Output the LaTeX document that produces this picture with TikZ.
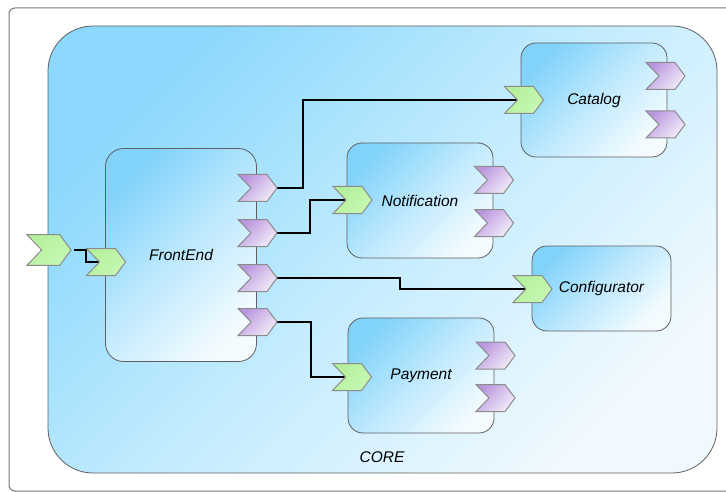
\documentclass[tikz,border=0pt]{standalone}
\usepackage{fontspec}
\setmainfont{Liberation Sans}
\definecolor{sky}{RGB}{130,211,250}
\definecolor{skymid}{RGB}{190,233,253}
\definecolor{skylight}{RGB}{244,251,255}
\definecolor{coresky}{RGB}{140,216,252}
\definecolor{coremid}{RGB}{196,236,254}
\definecolor{corelight}{RGB}{240,249,254}
\definecolor{purpA}{RGB}{186,150,222}
\definecolor{purpB}{RGB}{242,236,249}
\definecolor{greenA}{RGB}{180,240,155}
\definecolor{greenB}{RGB}{198,248,180}
\definecolor{portline}{RGB}{140,140,140}
\definecolor{boxline}{RGB}{95,95,95}
\definecolor{frameline}{RGB}{120,120,120}
\tikzset{
  chev/.pic={
    \path[#1] (-19.5,-13.5) -- (9.5,-13.5) -- (19.5,0) -- (9.5,13.5) -- (-19.5,13.5) -- (-6.5,0) -- cycle;
    \coordinate (-tip) at (19.5,0);
    \coordinate (-notch) at (-6.5,0);
  },
  inport/.style={draw=portline, line width=1pt, top color=greenA, bottom color=greenB, shading angle=45},
  outport/.style={draw=portline, line width=1pt, top color=purpA, bottom color=purpB, shading angle=45},
  comp/.style={draw=boxline, line width=0.8pt, rounded corners=15pt, top color=sky, bottom color=skylight, middle color=skymid, shading angle=45, inner sep=0pt, font=\fontsize{15.5}{18}\selectfont\itshape},
  corebox/.style={draw=boxline, line width=0.8pt, rounded corners=45pt, top color=coresky, bottom color=corelight, middle color=coremid, shading angle=45, inner sep=0pt},
  lbl/.style={font=\fontsize{15.5}{18}\selectfont\itshape, inner sep=0pt},
  wire/.style={draw=black, line width=1.2pt},
  frame/.style={draw=frameline, line width=1pt, rounded corners=6pt}
}
\begin{document}
\begin{tikzpicture}[x=1pt,y=-1pt]
\useasboundingbox (0,0) rectangle (726,492);
\draw[frame] (9,8) rectangle (760,491);
% core
\node[corebox, minimum width=669pt, minimum height=447pt] (core) at (382.5,249.5) {};
\node[lbl] (corelabel) at (382,457) {CORE};
% components
\node[comp, minimum width=151pt, minimum height=213pt, rounded corners=18pt] (frontend) at (181,255) {FrontEnd};
\node[comp, minimum width=146pt, minimum height=114pt] (catalog) at (594,100) {Catalog};
\node[comp, minimum width=146pt, minimum height=115pt] (notification) at (420,200.5) {Notification};
\node[comp, minimum width=139pt, minimum height=85pt] (configurator) at (601.5,288.5) {Configurator};
\node[comp, minimum width=146pt, minimum height=115pt] (payment) at (421,375.5) {Payment};
% port coordinates (wires need them first)
\path (49,250) coordinate (extc) (106,262) coordinate (feinc)
  (257.5,188) coordinate (fe1c) (257.5,233) coordinate (fe2c)
  (257.5,278) coordinate (fe3c) (257.5,322) coordinate (fe4c);
% wires
\draw[wire] ([xshift=24.9pt]extc) -- ++(12,0) |- ([xshift=-6.5pt]feinc);
\draw[wire] ([xshift=19.5pt]fe1c) -- ++(26,0) |- (517.5,100);
\draw[wire] ([xshift=19.5pt]fe2c) -- ++(33,0) |- (346,200);
\draw[wire] ([xshift=19.5pt]fe3c) -- ++(123,0) |- (526,289);
\draw[wire] ([xshift=19.5pt]fe4c) -- ++(34,0) |- (345.5,377);
% ports
\pic[scale=1.13] (ext) at (extc) {chev=inport};
\pic (fein) at (feinc) {chev=inport};
\pic (fe1) at (fe1c) {chev=outport};
\pic (fe2) at (fe2c) {chev=outport};
\pic (fe3) at (fe3c) {chev=outport};
\pic (fe4) at (fe4c) {chev=outport};
\pic (catin) at (524,100) {chev=inport};
\pic (catout1) at (665.5,76) {chev=outport};
\pic (catout2) at (665.5,124.5) {chev=outport};
\pic (notin) at (352.5,200) {chev=inport};
\pic (notout1) at (494,180) {chev=outport};
\pic (notout2) at (494,223) {chev=outport};
\pic (cfgin) at (532.5,289) {chev=inport};
\pic (payin) at (352,377) {chev=inport};
\pic (payout1) at (495.5,355.5) {chev=outport};
\pic (payout2) at (495.5,398) {chev=outport};
\end{tikzpicture}
\end{document}
